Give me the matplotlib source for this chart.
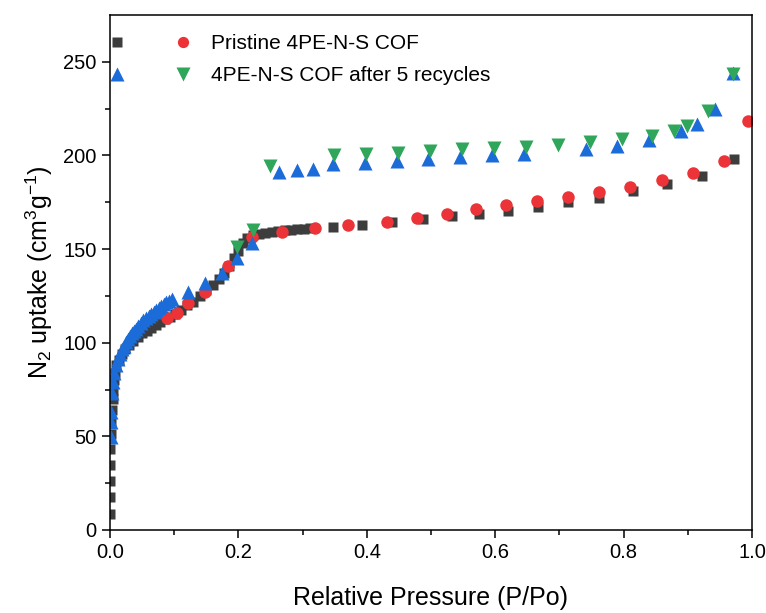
import matplotlib
matplotlib.use("Agg")
import matplotlib.pyplot as plt
from matplotlib.legend_handler import HandlerTuple

plt.rcParams['font.family'] = ['Liberation Sans', 'DejaVu Sans']
plt.rcParams['mathtext.default'] = 'regular'

# pristine COF, adsorption (squares)
pri_ads_x = [0.0003, 0.0003, 0.0003, 0.0003, 0.0005, 0.001, 0.002, 0.003, 0.004, 0.005,
             0.006, 0.008, 0.010, 0.014, 0.018, 0.023, 0.029, 0.036, 0.043, 0.050,
             0.057, 0.064, 0.071, 0.078, 0.085, 0.093, 0.101, 0.110, 0.120, 0.130,
             0.140, 0.150, 0.160, 0.170, 0.178, 0.186, 0.193, 0.200, 0.207, 0.214,
             0.222, 0.232, 0.242, 0.252, 0.262, 0.272, 0.282, 0.292, 0.302, 0.312,
             0.347, 0.392, 0.440, 0.487, 0.532, 0.575, 0.620, 0.666, 0.713, 0.762,
             0.815, 0.868, 0.922, 0.972]
pri_ads_y = [8.5, 17.5, 26, 34.6, 43, 51, 58, 64, 70, 75,
             80, 84, 88, 91, 94, 96.5, 99, 101, 103, 105,
             106.5, 108, 109.5, 111, 112.5, 114, 115.5, 117.5, 120, 122,
             125, 128, 131, 134, 137, 141, 145, 149, 153, 156,
             157.5, 158.3, 158.8, 159.3, 159.7, 160, 160.3, 160.6, 161, 161.3,
             162, 163, 164.5, 166, 167.5, 169, 170.5, 172.5, 175, 177.5,
             181, 185, 189, 198]

# pristine COF, desorption (circles)
pri_des_x = [0.089, 0.104, 0.122, 0.148, 0.184, 0.221, 0.268, 0.319, 0.371, 0.431,
             0.478, 0.525, 0.570, 0.617, 0.665, 0.713, 0.762, 0.810, 0.860, 0.908,
             0.956, 0.994]
pri_des_y = [113, 116, 121, 127, 141, 156.5, 159, 161.5, 163, 164.7,
             166.5, 169, 171.5, 173.5, 175.5, 178, 180.5, 183, 187, 190.5,
             197, 218.5]

# after 5 recycles, adsorption (up triangles)
rec_ads_x = [0.001, 0.001, 0.002, 0.003, 0.005, 0.007, 0.010, 0.013, 0.016, 0.019,
             0.022, 0.025, 0.028, 0.031, 0.034, 0.037, 0.040, 0.044, 0.048, 0.052,
             0.056, 0.060, 0.064, 0.068, 0.072, 0.076, 0.080, 0.084, 0.088, 0.092,
             0.096, 0.122, 0.148, 0.174, 0.198, 0.221, 0.263, 0.291, 0.316, 0.347,
             0.397, 0.447, 0.495, 0.545, 0.595, 0.645, 0.742, 0.790, 0.840, 0.890,
             0.914, 0.942, 0.970]
rec_ads_y = [49.5, 57.5, 63, 73, 79, 84, 88, 91.5, 94, 96.5,
             98.5, 100.5, 102, 103.5, 105, 106.5, 107.5, 109, 110.5, 112,
             113, 114.5, 115.5, 116.5, 117.5, 118.5, 119.5, 120.5, 121.5, 122.5,
             123.5, 127, 132, 137.5, 145, 153.5, 191, 192.5, 193, 195.5,
             196, 197, 198, 199, 200, 201, 203.5, 205, 208, 213,
             217, 225, 244]

# after 5 recycles, desorption (down triangles)
rec_des_x = [0.198, 0.223, 0.249, 0.349, 0.399, 0.449, 0.498, 0.548, 0.598, 0.648,
             0.698, 0.748, 0.798, 0.844, 0.878, 0.899, 0.931, 0.970]
rec_des_y = [151, 160, 194.6, 200, 201, 201.5, 202.5, 203.6, 204, 204.7,
             205.5, 207, 209, 210.6, 213, 216, 224, 243.6]

fig = plt.figure(figsize=(7.66, 6.13), dpi=100)
ax = fig.add_axes([0.1436, 0.1354, 0.8381, 0.8401])

sq, = ax.plot(pri_ads_x, pri_ads_y, 's', color='#3d3d3d', ms=7.8, mec='none')
ci, = ax.plot(pri_des_x, pri_des_y, 'o', color='#ec3338', ms=9, mec='none')
up, = ax.plot(rec_ads_x, rec_ads_y, '^', color='#1b6bd8', ms=10.5, mec='none')
dn, = ax.plot(rec_des_x, rec_des_y, 'v', color='#2fa65a', ms=10.5, mec='none')

ax.set_xlim(0, 1)
ax.set_ylim(0, 275)
ax.set_xticks([0, 0.2, 0.4, 0.6, 0.8, 1.0])
ax.set_xticks([0.1, 0.3, 0.5, 0.7, 0.9], minor=True)
ax.set_yticks([0, 50, 100, 150, 200, 250])
ax.set_yticks([25, 75, 125, 175, 225], minor=True)
ax.set_xticklabels(['0.0', '0.2', '0.4', '0.6', '0.8', '1.0'])
ax.tick_params(which='major', direction='out', length=6, width=1.1, labelsize=14.5)
ax.tick_params(which='minor', direction='out', length=3.5, width=1.1)
for s in ax.spines.values():
    s.set_linewidth(1.1)

ax.set_xlabel('Relative Pressure (P/Po)', fontsize=18, labelpad=17)
ax.set_ylabel('N$_2$ uptake (cm$^3$g$^{-1}$)', fontsize=18, labelpad=6)

ax.legend([(sq, ci), (up, dn)],
          ['Pristine 4PE-N-S COF', '4PE-N-S COF after 5 recycles'],
          handler_map={tuple: HandlerTuple(ndivide=None, pad=2.17)},
          loc='upper left', bbox_to_anchor=(-0.005, 0.963), borderaxespad=0,
          borderpad=0, frameon=False, fontsize=15, handlelength=4.17,
          handletextpad=0.85, labelspacing=0.64, numpoints=1, markerscale=0.9)

fig.savefig('out.png', dpi=100)
